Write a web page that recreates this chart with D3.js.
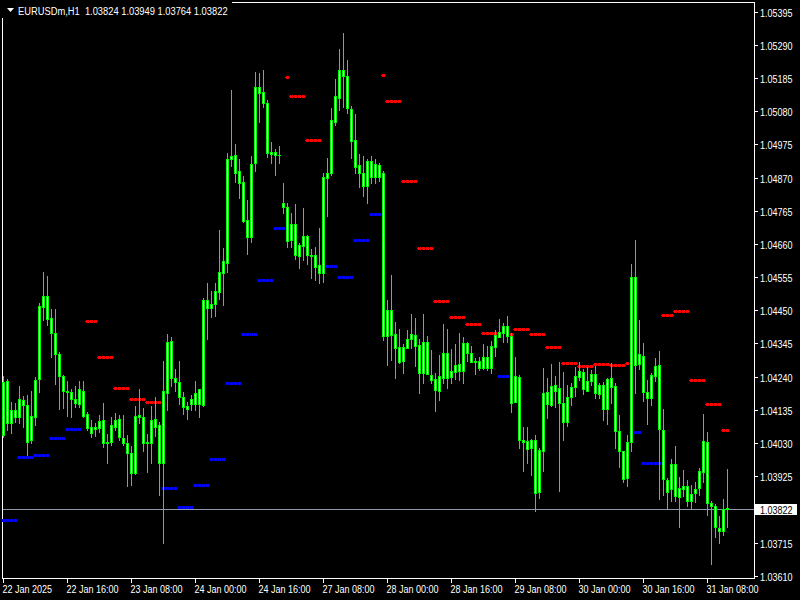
<!DOCTYPE html>
<html><head><meta charset="utf-8">
<script src="https://cdn.jsdelivr.net/npm/d3@7"></script>
<style>html,body{margin:0;padding:0;background:#000;}svg{display:block}</style>
</head><body>
<svg id="c" width="800" height="600"></svg>
<script>
const symbolTitle = "EURUSDm,H1";
const open = [
1.04223,1.04093,1.04134,1.04112,1.04112,1.04166,1.04150,1.04039,1.04112,1.04233,
1.04460,1.04495,1.04426,1.04378,1.04312,1.04242,1.04195,1.04191,1.04169,1.04153,
1.04195,1.04122,1.04081,1.04074,1.04077,1.04103,1.04030,1.04033,1.04081,1.04106,
1.04046,1.04030,1.03998,1.03935,1.04119,1.04112,1.04030,1.04030,1.04106,1.04087,
1.03967,1.04188,1.04353,1.04236,1.04223,1.04176,1.04147,1.04153,1.04153,1.04201,
1.04150,1.04483,1.04457,1.04470,1.04508,1.04568,1.04600,1.04929,1.04941,1.04891,
1.04856,1.04736,1.04682,1.04916,1.05157,1.05141,1.05106,1.04951,1.04941,1.04941,
1.04790,1.04777,1.04672,1.04723,1.04622,1.04653,1.04685,1.04625,1.04625,1.04593,
1.04568,1.04869,1.04885,1.05046,1.05122,1.05210,1.05191,1.05087,1.04989,1.04910,
1.04885,1.04843,1.04922,1.04872,1.04910,1.04885,1.04369,1.04451,1.04375,1.04334,
1.04289,1.04331,1.04359,1.04372,1.04340,1.04252,1.04350,1.04245,1.04233,1.04195,
1.04236,1.04315,1.04239,1.04255,1.04280,1.04258,1.04346,1.04315,1.04289,1.04289,
1.04267,1.04302,1.04267,1.04334,1.04365,1.04378,1.04400,1.04369,1.04160,1.04239,
1.04039,1.04036,1.04014,1.04039,1.03875,1.04005,1.04191,1.04150,1.04214,1.04204,
1.04157,1.04096,1.04176,1.04207,1.04239,1.04255,1.04195,1.04226,1.04248,1.04185,
1.04214,1.04138,1.04236,1.04210,1.04068,1.04005,1.03919,1.04033,1.04555,1.04280,
1.04305,1.04191,1.04172,1.04242,1.04277,1.04071,1.03913,1.03884,1.03963,1.03859,
1.03884,1.03894,1.03846,1.03872,1.03888,1.03938,1.04033,1.03840,1.03830,1.03761,
1.03751,1.03824];
const high = [
1.04242,1.04233,1.04160,1.04157,1.04210,1.04179,1.04182,1.04195,1.04239,1.04473,
1.04571,1.04559,1.04454,1.04454,1.04318,1.04245,1.04226,1.04201,1.04210,1.04226,
1.04226,1.04128,1.04103,1.04093,1.04119,1.04157,1.04058,1.04112,1.04125,1.04119,
1.04119,1.04055,1.04020,1.04147,1.04201,1.04141,1.04058,1.04147,1.04176,1.04096,
1.04289,1.04375,1.04365,1.04264,1.04289,1.04191,1.04160,1.04182,1.04226,1.04201,
1.04489,1.04536,1.04511,1.04536,1.04704,1.04647,1.04948,1.05147,1.04976,1.04929,
1.04875,1.04799,1.04938,1.05204,1.05201,1.05210,1.05116,1.04983,1.04960,1.04970,
1.04853,1.04790,1.04758,1.04786,1.04663,1.04774,1.04688,1.04644,1.04650,1.04710,
1.04885,1.04932,1.05090,1.05182,1.05277,1.05328,1.05242,1.05097,1.05071,1.04945,
1.04938,1.04929,1.04938,1.04929,1.04916,1.04891,1.04483,1.04562,1.04413,1.04391,
1.04343,1.04388,1.04438,1.04426,1.04359,1.04438,1.04369,1.04324,1.04252,1.04308,
1.04407,1.04391,1.04327,1.04343,1.04378,1.04365,1.04350,1.04337,1.04299,1.04302,
1.04343,1.04337,1.04353,1.04388,1.04422,1.04410,1.04432,1.04378,1.04302,1.04245,
1.04081,1.04081,1.04043,1.04055,1.04014,1.04267,1.04236,1.04280,1.04242,1.04286,
1.04255,1.04214,1.04220,1.04270,1.04286,1.04264,1.04270,1.04261,1.04274,1.04220,
1.04223,1.04236,1.04283,1.04220,1.04119,1.04005,1.04055,1.04596,1.04672,1.04419,
1.04346,1.04229,1.04252,1.04299,1.04321,1.04138,1.03919,1.03979,1.04020,1.03922,
1.03944,1.03913,1.03897,1.03907,1.03951,1.04122,1.04065,1.03846,1.03837,1.03799,
1.03853,1.03949];
const low = [
1.04049,1.04071,1.04062,1.04096,1.04093,1.04081,1.03992,1.04030,1.04087,1.04191,
1.04419,1.04403,1.04302,1.04217,1.04138,1.04141,1.04115,1.04112,1.04144,1.04144,
1.04112,1.04071,1.04049,1.04052,1.04065,1.04017,1.03967,1.04024,1.04071,1.04039,
1.04024,1.03894,1.03897,1.03932,1.04093,1.04005,1.03938,1.03967,1.04052,1.03865,
1.03713,1.04134,1.04210,1.04195,1.04153,1.04122,1.04106,1.04134,1.04134,1.04112,
1.04147,1.04359,1.04429,1.04432,1.04486,1.04467,1.04571,1.04907,1.04856,1.04805,
1.04729,1.04628,1.04666,1.04891,1.05046,1.05093,1.04935,1.04916,1.04878,1.04916,
1.04758,1.04650,1.04650,1.04612,1.04584,1.04609,1.04596,1.04552,1.04546,1.04536,
1.04540,1.04748,1.04878,1.05036,1.05084,1.05093,1.05074,1.04932,1.04885,1.04840,
1.04812,1.04790,1.04853,1.04853,1.04859,1.04356,1.04277,1.04293,1.04236,1.04283,
1.04252,1.04331,1.04331,1.04274,1.04188,1.04220,1.04248,1.04220,1.04131,1.04166,
1.04220,1.04204,1.04220,1.04233,1.04229,1.04220,1.04289,1.04286,1.04248,1.04261,
1.04264,1.04261,1.04252,1.04305,1.04365,1.04350,1.04350,1.04128,1.04160,1.04014,
1.03941,1.03967,1.03929,1.03815,1.03856,1.03941,1.04109,1.04147,1.04144,1.03878,
1.04039,1.04084,1.04150,1.04179,1.04229,1.04185,1.04195,1.04214,1.04172,1.04172,
1.04103,1.04090,1.04157,1.04014,1.03954,1.03907,1.03894,1.04005,1.04188,1.04264,
1.04163,1.04090,1.04150,1.04226,1.03853,1.03865,1.03824,1.03846,1.03846,1.03764,
1.03862,1.03831,1.03824,1.03843,1.03865,1.03907,1.03802,1.03647,1.03732,1.03713,
1.03739,1.03764];
const close = [
1.04055,1.04226,1.04093,1.04134,1.04169,1.04150,1.04033,1.04115,1.04229,1.04464,
1.04495,1.04422,1.04378,1.04312,1.04242,1.04195,1.04191,1.04169,1.04157,1.04201,
1.04115,1.04077,1.04062,1.04081,1.04100,1.04030,1.04033,1.04087,1.04103,1.04049,
1.04030,1.03998,1.03935,1.04115,1.04112,1.04030,1.04033,1.04103,1.04081,1.03967,
1.04195,1.04350,1.04236,1.04223,1.04176,1.04144,1.04138,1.04169,1.04188,1.04153,
1.04483,1.04457,1.04470,1.04511,1.04571,1.04606,1.04929,1.04938,1.04885,1.04853,
1.04733,1.04682,1.04913,1.05157,1.05138,1.05106,1.04948,1.04945,1.04951,1.04940,
1.04777,1.04669,1.04723,1.04625,1.04657,1.04685,1.04625,1.04623,1.04587,1.04568,
1.04872,1.04885,1.05052,1.05128,1.05210,1.05191,1.05090,1.04986,1.04903,1.04885,
1.04843,1.04922,1.04872,1.04913,1.04872,1.04369,1.04451,1.04372,1.04331,1.04286,
1.04334,1.04359,1.04375,1.04337,1.04252,1.04350,1.04248,1.04229,1.04198,1.04242,
1.04315,1.04236,1.04258,1.04277,1.04258,1.04346,1.04315,1.04286,1.04287,1.04267,
1.04302,1.04267,1.04337,1.04372,1.04381,1.04400,1.04369,1.04157,1.04242,1.04039,
1.04033,1.04011,1.04039,1.03872,1.04008,1.04188,1.04153,1.04210,1.04195,1.04157,
1.04096,1.04176,1.04207,1.04242,1.04258,1.04201,1.04226,1.04248,1.04188,1.04214,
1.04138,1.04233,1.04207,1.04068,1.04005,1.03916,1.04033,1.04555,1.04277,1.04312,
1.04191,1.04172,1.04245,1.04274,1.04074,1.03916,1.03875,1.03963,1.03862,1.03888,
1.03894,1.03846,1.03869,1.03884,1.03941,1.04036,1.03840,1.03830,1.03764,1.03751,
1.03821,1.03822];

// indicator levels: [first bar, last bar, price]
const resistanceLevels = [
[21,23,1.04415],[24,27,1.04301],[28,31,1.04203],[32,35,1.04168],[36,39,1.04159],
[71,71,1.05188],[72,75,1.05127],[76,79,1.04988],
[95,95,1.05194],[96,99,1.05111],[100,103,1.04858],[104,107,1.04646],[108,111,1.04478],
[112,115,1.04428],[116,119,1.04406],[120,123,1.04377],
[127,127,1.04374],[128,131,1.04390],[132,135,1.04374],[136,139,1.04333],[140,143,1.04282],
[144,147,1.04273],[148,151,1.04279],[152,155,1.04276],[156,156,1.04282],
[165,167,1.04434],[168,171,1.04447],[172,175,1.04228],[176,179,1.04152],[180,181,1.04070]];
const supportLevels = [
[0,3,1.03786],[4,7,1.03986],[8,11,1.03992],[12,15,1.04046],[16,19,1.04073],
[40,43,1.03888],[44,47,1.03827],[48,51,1.03897],[52,55,1.03979],[56,59,1.04220],
[60,63,1.04375],[64,67,1.04547],[68,70,1.04709],
[81,83,1.04589],[84,87,1.04554],[88,91,1.04671],[92,94,1.04754],
[124,126,1.04241],
[157,159,1.04064],[160,164,1.03966]];

const xTickBars = [0,16,32,48,64,80,96,112,128,144,160,176];
const xTickLabels = ["22 Jan 2025","22 Jan 16:00","23 Jan 08:00","24 Jan 00:00","24 Jan 16:00","27 Jan 08:00",
  "28 Jan 00:00","28 Jan 16:00","29 Jan 08:00","30 Jan 00:00","30 Jan 16:00","31 Jan 08:00"];
const yTickValues = [1.05395,1.05290,1.05185,1.05080,1.04975,1.04870,1.04765,1.04660,1.04555,
  1.04450,1.04345,1.04240,1.04135,1.04030,1.03925,1.03715,1.03610];

const svg = d3.select("#c");
svg.append("rect").attr("width",800).attr("height",600).attr("fill","#000");

const x = d3.scaleLinear().domain([0,1]).range([3,7]);
const y = d3.scaleLinear().domain([1.03610,1.05395]).range([575.7,11.7]);
const Y = v => Math.round(y(v));

const FONT = "'Liberation Sans', Arial, sans-serif";
const last = close.length - 1;

// frame
const frame = svg.append("g").attr("stroke","#fff").attr("stroke-width",1).attr("shape-rendering","crispEdges");
frame.append("line").attr("x1",2.5).attr("x2",2.5).attr("y1",2).attr("y2",579);
frame.append("line").attr("x1",2).attr("x2",755).attr("y1",578.5).attr("y2",578.5);
frame.append("line").attr("x1",754.5).attr("x2",754.5).attr("y1",2).attr("y2",579);
frame.append("line").attr("x1",2).attr("x2",755).attr("y1",2.5).attr("y2",2.5);

// current price line
const lp = Y(close[last]);
svg.append("line").attr("x1",3).attr("x2",754).attr("y1",lp+0.5).attr("y2",lp+0.5)
  .attr("stroke","#8e9aab").attr("stroke-width",1).attr("shape-rendering","crispEdges");

// indicator dots
function drawDots(levels, color){
  const pts = [];
  levels.forEach(([a,b,v]) => { for(let i=a;i<=b;i++) pts.push({i, v}); });
  const g = svg.append("g").attr("fill",color).attr("shape-rendering","crispEdges");
  g.selectAll("rect.sq").data(pts).join("rect").attr("class","sq")
    .attr("x", d => x(d.i)-1).attr("y", d => Y(d.v)-1).attr("width",3).attr("height",3);
  g.selectAll("rect.ln").data(pts).join("rect").attr("class","ln")
    .attr("x", d => x(d.i)-2).attr("y", d => Y(d.v)).attr("width",5).attr("height",1);
}
drawDots(resistanceLevels, "#ff0000");
drawDots(supportLevels, "#0000ff");

// candles
const bars = d3.range(close.length).map(i => ({i, o:open[i], h:high[i], l:low[i], c:close[i]}));
const cg = svg.append("g").attr("shape-rendering","crispEdges");
cg.selectAll("rect.wick").data(bars).join("rect").attr("class","wick")
  .attr("x", d => x(d.i)).attr("y", d => Y(d.h)).attr("width",1)
  .attr("height", d => Math.max(1, Y(d.l)-Y(d.h)+1)).attr("fill","#00ff00");
cg.selectAll("rect.body").data(bars).join("rect").attr("class","body")
  .attr("x", d => x(d.i)-1).attr("y", d => Y(Math.max(d.o,d.c))).attr("width",3)
  .attr("height", d => Y(Math.min(d.o,d.c))-Y(Math.max(d.o,d.c))+1).attr("fill","#00ff00");
cg.selectAll("rect.inner").data(bars.filter(d => Y(Math.min(d.o,d.c))-Y(Math.max(d.o,d.c)) >= 2)).join("rect").attr("class","inner")
  .attr("x", d => x(d.i)).attr("y", d => Y(Math.max(d.o,d.c))+1).attr("width",1)
  .attr("height", d => Y(Math.min(d.o,d.c))-Y(Math.max(d.o,d.c))-1).attr("fill","#ffffff");

// y axis ticks & labels
const ya = svg.append("g");
yTickValues.forEach(v => {
  const yy = Y(v);
  ya.append("line").attr("x1",755).attr("x2",758).attr("y1",yy+0.5).attr("y2",yy+0.5)
    .attr("stroke","#fff").attr("shape-rendering","crispEdges");
  ya.append("text").attr("transform",`translate(760,${yy+4.5}) scale(0.82,1)`)
    .attr("fill","#fff").attr("font-family",FONT).attr("font-size",11).text(v.toFixed(5));
});
// current price box
ya.append("rect").attr("x",755).attr("y",lp-5).attr("width",42).attr("height",11).attr("fill","#fff");
ya.append("text").attr("transform",`translate(760,${lp+4.5}) scale(0.82,1)`)
  .attr("fill","#000").attr("font-family",FONT).attr("font-size",11).text(close[last].toFixed(5));

// x axis ticks & labels
const xa = svg.append("g");
xTickBars.forEach((b,k) => {
  const xx = x(b);
  xa.append("line").attr("x1",xx+0.5).attr("x2",xx+0.5).attr("y1",579).attr("y2",583)
    .attr("stroke","#fff").attr("shape-rendering","crispEdges");
  xa.append("text").attr("transform",`translate(${xx-0.5},592.5) scale(0.82,1)`)
    .attr("fill","#fff").attr("font-family",FONT).attr("font-size",11).text(xTickLabels[k]);
});

// header
svg.append("rect").attr("x",0).attr("y",0).attr("width",232).attr("height",18).attr("fill","#000");
svg.append("path").attr("d","M7,8 L14,8 L10.5,12 Z").attr("fill","#fff");
svg.append("text").attr("transform","translate(18,14.5) scale(0.85,1)")
  .attr("fill","#fff").attr("font-family",FONT).attr("font-size",11)
  .attr("xml:space","preserve").style("white-space","pre")
  .text(`${symbolTitle}  ${open[last].toFixed(5)} ${high[last].toFixed(5)} ${low[last].toFixed(5)} ${close[last].toFixed(5)}`);
</script>
</body></html>
